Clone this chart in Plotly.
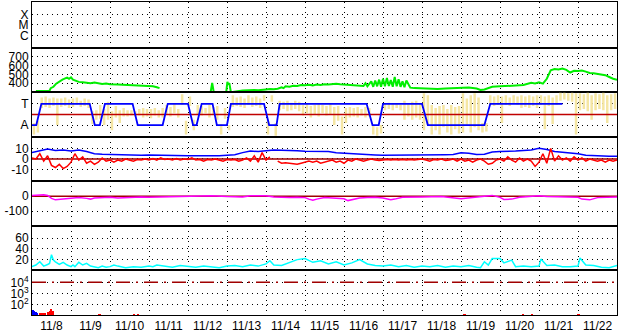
import plotly.graph_objects as go

# ---------------- data ----------------
day_labels = ["11/8", "11/9", "11/10", "11/11", "11/12", "11/13", "11/14", "11/15",
              "11/16", "11/17", "11/18", "11/19", "11/20", "11/21", "11/22"]

# X-ray flux class (log10 W/m2) -- no data visible in the period
xr_t = []
xr_v = []

# solar wind speed (km/s), time in days from 11/8 00:00
sw_t = [0.1, 0.2, 0.3, 0.4, 0.45, 0.48, 0.55, 0.62, 0.7, 0.78, 0.85, 0.9, 0.95, 1.0, 1.05, 1.12,
        1.2, 1.3, 1.4, 1.5, 1.6, 1.7, 1.8, 1.9, 2.0, 2.2, 2.4, 2.6, 2.8, 3.0, 3.1, 3.2, 3.27,
        3.3,
        4.58, 4.62, 4.66, 4.98, 5.01, 5.03, 5.06, 5.1,
        5.4, 5.5, 5.6, 5.7, 5.8, 5.9, 6.0, 6.1, 6.2, 6.3, 6.4, 6.45, 6.5, 6.6, 6.7, 6.8, 6.9,
        7.0, 7.1, 7.2, 7.3, 7.4, 7.5, 7.6, 7.7, 7.8, 7.9, 8.0, 8.1, 8.2, 8.3, 8.4, 8.5, 8.55,
        8.6, 8.7, 8.75, 8.8, 8.85, 8.9, 8.95, 9.0, 9.05, 9.1, 9.15, 9.2, 9.25, 9.3, 9.35, 9.4,
        9.45, 9.5, 9.55, 9.6, 9.7, 9.8, 10.0, 10.2, 10.4, 10.6, 10.8, 11.0, 11.2, 11.4, 11.5,
        11.6, 11.8, 12.0, 12.2, 12.4, 12.6, 12.8, 12.9, 13.0, 13.1, 13.2, 13.3, 13.4, 13.5,
        13.6, 13.7, 13.8, 13.9, 14.0, 14.1, 14.2, 14.3, 14.4, 14.5, 14.6, 14.7, 14.8, 14.9, 15.0]
sw_v = [312, 315, 314, 318, 316, 345, 360, 395, 420, 440, 455, 462, 450, 465, 440, 425,
        415, 410, 405, 400, 408, 398, 392, 396, 388, 385, 382, 378, 375, 372, 365, 355, 345,
        None,
        300, 403, 300, 300, 415, 385, 400, 300,
        318, 322, 318, 325, 320, 328, 330, 335, 332, 338, 355, 345, 365, 360, 372, 368, 380,
        378, 382, 376, 385, 380, 388, 385, 392, 395, 388, 385, 378, 372, 368, 365, 370, 400,
        365, 420, 360, 430, 365, 440, 360, 450, 365, 460, 370, 435, 360, 470, 365, 445,
        360, 420, 355, 430, 350, 345, 340, 338, 335, 340, 345, 350, 352, 340, 325,
        330, 360, 365, 368, 375, 380, 405, 398, 410, 395, 450, 545, 560, 555,
        565, 550, 520, 540, 538, 542, 530, 515, 512, 505, 495, 490, 470, 450, 440]

# IMF sector (T = +1, A = -1)
sec_t = [0.0, 0.11, 0.24, 1.48, 1.61, 1.74, 1.87, 2.58, 2.71, 3.35, 3.48, 4.0, 4.13, 4.22,
         4.35, 4.63, 4.74, 5.0, 5.1, 5.95, 6.08, 6.27, 6.35, 8.58, 8.73, 8.89, 9.0, 10.0,
         10.15, 11.6, 11.75, 13.6]
sec_v = [-1, -1, 1, 1, -1, -1, 1, 1, -1, -1, 1, 1, -1, -1,
         1, 1, -1, -1, 1, 1, -1, -1, 1, 1, -1, -1, 1, 1,
         -1, -1, 1, 1]

# IMF phi scatter (pale yellow): per 0.1-day bin, low / high of the dense part
phi_t = [round(0.05 + 0.1 * i, 2) for i in range(150)]
phi_lo = [-1.9, -1.7, 0.6, 0.7, 0.6, 0.8, -1.0, 0.7, 0.8, 0.6,
          0.7, 0.9, 0.7, 0.8, 0.6, -0.9, -0.5, -0.4, -1.0, -0.5,
          -1.5, -0.3, -0.8, -0.2, -0.2, -0.1, -0.2, -0.1, -0.3, -0.2,
          -0.35, -0.1, -0.3, -0.3, 0.0, -0.2, 0.1, -0.3, 0.9, -1.9,
          0.8, -1.5, 0.0, -0.1, 0.1, -0.3, 0.0, -0.5, -1.9, -0.4,
          -1.5, 0.7, 0.8, 0.7, 0.6, 0.9, 0.7, 0.8, 0.6, 1.3,
          -1.9, 1.2, -2.0, 0.4, 0.5, 0.3, 0.4, 0.5, 0.3, -0.1,
          0.1, -0.3, 0.0, -0.2, 0.1, -0.1, 0.0, -1.0, -0.6, -1.9,
          -0.8, -0.3, -0.2, -0.3, -0.1, -0.3, -0.2, -1.9, -2.0, -1.8,
          0.4, 0.5, 0.4, 0.6, 0.4, -0.5, -0.2, -0.5, -0.3, -0.5,
          -1.5, -1.0, -1.9, -1.5, -1.9, -1.2, -1.7, -1.9, -1.4, -1.8,
          -1.7, -1.0, -1.7, -1.2, -1.5, -1.7, -1.6, 0.9, 0.8, 0.9,
          -0.8, 0.9, 0.8, 1.0, 0.9, 0.6, 0.7, 0.6, 0.8, 0.6,
          0.9, -1.4, 0.8, -0.9, 0.9, 1.3, 1.4, 1.3, 1.2, -1.9,
          0.4, 0.5, 0.3, -0.5, 0.4, 0.5, 0.4, -0.8, 0.4, 0.5]
phi_hi = [-0.8, -0.6, 1.6, 1.7, 1.5, 1.6, 1.5, 1.5, 1.6, 1.4,
          1.5, 1.6, 1.3, 1.5, 1.4, 0.3, 0.4, 0.9, 0.5, 1.2,
          0.3, 0.8, 0.4, 0.6, 0.4, 0.4, 0.3, 0.5, 0.6, 0.5,
          0.5, 0.6, 0.4, 0.6, 0.9, 0.7, 1.0, 0.5, 1.9, -0.6,
          1.7, -0.5, 0.9, 0.8, 0.6, 0.9, 0.7, 0.8, -0.9, 0.6,
          -1.0, 1.8, 1.6, 1.7, 1.5, 1.8, 1.6, 1.7, 1.5, 1.8,
          -0.6, 1.8, -0.8, 1.3, 1.2, 1.3, 1.1, 1.3, 1.2, 0.9,
          1.0, 0.8, 0.9, 1.0, 0.9, 0.8, 1.0, 0.7, 0.8, -0.2,
          0.6, 0.7, 0.6, 0.7, 0.5, 0.7, 0.6, -1.1, -1.2, -1.0,
          1.0, 1.1, 1.0, 1.0, 0.9, 1.3, 1.0, 1.2, 1.3, 1.0,
          2.0, 1.8, 0.9, 0.6, 0.8, 0.9, 0.5, 0.9, 0.7, 0.8,
          2.0, 1.5, 1.8, 2.0, 1.6, -0.8, -0.8, 1.8, 1.7, 1.8,
          1.7, 1.8, 1.6, 1.8, 1.7, 1.8, 1.7, 1.8, 1.7, 1.8,
          1.8, 1.7, 1.8, 1.6, 1.8, 2.05, 2.05, 2.0, 2.05, 2.0,
          2.0, 1.9, 2.05, 1.8, 2.0, 1.9, 2.05, 1.8, 1.9, 2.0]

# IMF Bt (blue) and Bz (red), nT
bt_t = [round(0.2 * i, 2) for i in range(76)]
bt_v = [6, 8, 9.5, 8, 8.5, 7.5, 8.5, 7, 5, 4.5, 4.2, 4.5, 4, 3.8, 3.5, 3.8, 3.5, 3.2, 3, 3,
        3, 3, 2.8, 2.7, 3, 3.5, 4, 6, 7.5, 7, 8, 8.5, 8.3, 8.3, 7.8, 7.3, 7.3, 7.5, 7, 6,
        5.5, 4.6, 4.2, 4, 3.8, 3.5, 3.5, 3.4, 3.6, 3.5, 3.8, 4, 3.8, 4, 4.2, 5.8, 5.5, 4.2,
        4.5, 6.5, 7, 7, 7.5, 8, 8.5, 10, 9, 7, 6.5, 6, 5, 3.5, 3, 3, 2.6, 2.5]
bz_t = [round(0.1 * i, 2) for i in range(151)]
bz_v = [1, 0, 5, -2, 3, -6, -8, -5, -9, -7,
        -3, 5, -1, 2, -4, -2, -5, -3, 1, -2,
        -1, -3, -1, -2, 0, -1, -2, -0.5, -1, 0,
        -1, 0.5, -1, 1, -0.5, 0, -1, 0.5, -1, 0,
        -0.5, 1, -1, -0.5, -2, -0.5, -1, 0, -1, -2,
        -0.5, -1, -0.5, -2, -1, 1, -2, 3, -3, 6,
        -1, 2, None, -2, -4, -3.5, -4, -4.5, -5, -4,
        -3, -2, -3, -2, -4, -3, -2, -1, -3, -2,
        -4, -1, -2, 0, -1, -2, -1, 0, -1, -1.5,
        -1, -0.5, -1, -0.5, -1, -0.5, -1, -0.5, -1, -0.5,
        0, -1, -2, -0.5, -1, 0, -1.5, -1, 0, -2,
        0, -2, -1, -3, -1, 0, -2, -5, -4, -1,
        0, -2, 2, -1, -3, 1, -2, 0, -2, -7,
        -3, 5, -4, 10, -2, 3, -1, 1, -2, 2,
        -1, 1, -2, 0, -1, -2, -1, -3, -1, -2, -1]

# Dst (magenta), nT
dst_t = [0, 0.2, 0.3, 0.4, 0.5, 0.6, 0.7, 0.8, 0.9, 1.0, 1.2, 1.4, 1.5, 1.6, 1.8, 2.0, 2.2, 2.4,
         2.6, 2.8, 3.0, 3.5, 4.0, 4.4, 4.6, 5.0, 5.4, 5.6, 5.8, 6.0, 6.2, 6.4, 6.6, 6.8, 7.0,
         7.1, 7.2, 7.3, 7.5, 7.8, 8.0, 8.1, 8.2, 8.4, 8.6, 8.8, 9.0, 9.2, 9.3, 9.5, 10.0,
         10.5, 11.0, 11.2, 11.4, 11.6, 11.8, 12.0, 12.1, 12.3, 12.5, 12.8, 13.0, 13.2, 13.5,
         13.8, 14.0, 14.1, 14.3, 14.5, 14.8, 15.0]
dst_v = [5, 8, 10, 5, -15, -25, -22, -18, -15, -15, -10, -15, -20, -12, -10, -8, -12, -8,
         -5, -5, -8, -5, -3, -3, 2, -3, -5, 3, 5, 3, -5, -8, -10, -8, -10,
         -20, -28, -20, -10, -15, -18, -30, -25, -12, -10, -8, -12, -25, -20, -8, -5,
         -3, -17, -10, -5, 0, 5, -8, -22, -20, -8, 0, 3, -2, -5,
         -5, -8, -20, -25, -10, -5, -5]

# Kp-like index (cyan)
kp_t = [0.0, 0.1, 0.2, 0.3, 0.4, 0.45, 0.5, 0.55, 0.6, 0.7, 0.8, 0.9, 1.0, 1.05, 1.1, 1.2,
        1.3, 1.4, 1.5, 1.6, 1.7, 1.8, 1.9, 2.0, 2.1, 2.2, 2.3, 2.4, 2.6, 2.8, 3.0, 3.1, 3.2,
        3.4, 3.6, 3.8, 4.0, 4.2, 4.4, 4.6, 4.8, 5.0, 5.2, 5.4, 5.6, 5.8, 6.0, 6.1, 6.2, 6.4,
        6.6, 6.8, 7.0, 7.2, 7.4, 7.6, 7.8, 8.0, 8.2, 8.4, 8.6, 8.8, 9.0, 9.2, 9.4, 9.6, 9.8,
        10.0, 10.2, 10.4, 10.6, 10.8, 11.0, 11.2, 11.4, 11.5, 11.6, 11.7, 11.8, 12.0, 12.1,
        12.3, 12.4, 12.6, 12.8, 13.0, 13.05, 13.2, 13.4, 13.6, 13.8, 14.0, 14.05, 14.2, 14.4,
        14.6, 14.8, 15.0]
kp_v = [7, 10, 16, 8, 11, 13, 29, 19, 16, 11, 15, 10, 7, 10, 7, 15,
        10, 13, 8, 7, 5, 8, 6, 7, 10, 8, 7, 5, 7, 6, 8, 7, 10,
        8, 6, 9, 7, 6, 8, 7, 5, 8, 9, 7, 10, 8, 12, 18, 10, 9,
        14, 20, 22, 15, 18, 12, 16, 10, 14, 20, 12, 9, 8, 10, 7, 9, 6,
        8, 7, 9, 6, 8, 7, 9, 6, 5, 16, 10, 22, 22, 14,
        19, 7, 8, 7, 8, 21, 9, 10, 7, 7, 8, 23, 10, 9,
        6, 5, 9]

# particle flux bars (log panel)
pf_blue_t = [0.02, 0.06, 0.1, 0.14]
pf_blue_v = [26, 24, 20, 14]
pf_red_t = [0.22, 0.28, 0.34, 0.42, 0.47, 0.5, 0.54, 1.74, 2.62, 2.72, 11.1, 12.6, 12.82, 14.02]
pf_red_v = [14, 16, 15, 17, 22, 36, 22, 13, 13, 13, 13, 13, 13, 13]

x_threshold = [0, 15]
y_threshold = [1e4, 1e4]

# ---------------- figure ----------------
fig = go.Figure()
bounds = [1, 47, 92, 137, 182, 227, 272, 317]
PH = 316.0


def dom(i):
    return [(317 - bounds[i + 1]) / PH, (317 - bounds[i]) / PH]


def ax(i):
    return ("x" if i == 0 else "x%d" % (i + 1)), ("y" if i == 0 else "y%d" % (i + 1))


font = dict(family="Liberation Sans, Arial, sans-serif", size=12, color="black")
GD = "1px,4px"

# panel 1: X-ray (empty)
xa, ya = ax(0)
fig.add_trace(go.Scatter(x=xr_t, y=xr_v, xaxis=xa, yaxis=ya, mode="lines",
                         line=dict(color="#ff0000", width=1.5)))

# panel 2: speed
xa, ya = ax(1)
fig.add_trace(go.Scatter(x=sw_t, y=sw_v, xaxis=xa, yaxis=ya, mode="lines",
                         line=dict(color="#00ee00", width=2), connectgaps=False))

# panel 3: sector
xa, ya = ax(2)
px, py = [], []
for t, lo, hi in zip(phi_t, phi_lo, phi_hi):
    px += [t, t, None]
    py += [lo, hi, None]
fig.add_trace(go.Scatter(x=px, y=py, xaxis=xa, yaxis=ya, mode="lines",
                         line=dict(color="#f5e6a3", width=2.5)))
fig.add_trace(go.Scatter(x=x_threshold, y=[0, 0], xaxis=xa, yaxis=ya, mode="lines",
                         line=dict(color="#c00000", width=1.5)))
fig.add_trace(go.Scatter(x=sec_t, y=sec_v, xaxis=xa, yaxis=ya, mode="lines",
                         line=dict(color="#0000ff", width=1.8)))

# panel 4: Bt/Bz
xa, ya = ax(3)
fig.add_trace(go.Scatter(x=x_threshold, y=[0, 0], xaxis=xa, yaxis=ya, mode="lines",
                         line=dict(color="#a00000", width=1.5)))
fig.add_trace(go.Scatter(x=bt_t, y=bt_v, xaxis=xa, yaxis=ya, mode="lines",
                         line=dict(color="#0000ff", width=1.5)))
fig.add_trace(go.Scatter(x=bz_t, y=bz_v, xaxis=xa, yaxis=ya, mode="lines",
                         line=dict(color="#ff0000", width=1.5), connectgaps=False))

# panel 5: Dst
xa, ya = ax(4)
fig.add_trace(go.Scatter(x=x_threshold, y=[0, 0], xaxis=xa, yaxis=ya, mode="lines",
                         line=dict(color="#a00000", width=1.5)))
fig.add_trace(go.Scatter(x=dst_t, y=dst_v, xaxis=xa, yaxis=ya, mode="lines",
                         line=dict(color="#ff00ff", width=1.5)))

# panel 6: Kp
xa, ya = ax(5)
fig.add_trace(go.Scatter(x=kp_t, y=kp_v, xaxis=xa, yaxis=ya, mode="lines",
                         line=dict(color="#00ffff", width=1.5)))

# panel 7: particle flux (log)
xa, ya = ax(6)
fig.add_trace(go.Scatter(x=x_threshold, y=y_threshold, xaxis=xa, yaxis=ya, mode="lines",
                         line=dict(color="#a00000", width=1.5, dash="14px,6px,2px,6px")))
fig.add_trace(go.Bar(x=pf_blue_t, y=pf_blue_v, xaxis=xa, yaxis=ya, width=0.05,
                     marker=dict(color="#0000ff", line=dict(width=0))))
fig.add_trace(go.Bar(x=pf_red_t, y=pf_red_v, xaxis=xa, yaxis=ya, width=0.05,
                     marker=dict(color="#ff0000", line=dict(width=0))))

y_specs = [
    dict(range=[-7.17, -2.79], tickvals=[-6, -5, -4], ticktext=["C", "M", "X"]),
    dict(range=[300, 800], tickvals=[400, 500, 600, 700], ticktext=["400", "500", "600", "700"]),
    dict(range=[-2.1, 2.1], tickvals=[-1, 1], ticktext=["A", "T"]),
    dict(range=[-21, 21], tickvals=[-10, 0, 10], ticktext=["-10", "0", "10"]),
    dict(range=[-200, 100], tickvals=[-100, 0], ticktext=["-100", "0"]),
    dict(range=[0, 82.5], tickvals=[20, 40, 60], ticktext=["20", "40", "60"]),
    dict(type="log", range=[1.04, 5.08], tickvals=[100, 1000, 10000],
         ticktext=["10<sup>2</sup>", "10<sup>3</sup>", "10<sup>4</sup>"]),
]

layout = dict(
    width=628, height=334,
    margin=dict(l=32, r=11, t=1, b=17),
    paper_bgcolor="white", plot_bgcolor="white",
    showlegend=False, font=font, bargap=0, barmode="overlay",
)
for i in range(7):
    xname = "xaxis" if i == 0 else "xaxis%d" % (i + 1)
    yname = "yaxis" if i == 0 else "yaxis%d" % (i + 1)
    xa, ya = ax(i)
    layout[xname] = dict(
        domain=[0, 1], range=[0, 15], anchor=ya,
        showline=True, linecolor="black", linewidth=1, mirror=True,
        showgrid=False, zeroline=False, ticks="",
        tickmode="array", tickvals=[d + 0.5 for d in range(15)], ticktext=day_labels,
        showticklabels=(i == 6), tickfont=font,
        minor=dict(tickmode="array", tickvals=list(range(1, 15)), showgrid=True,
                   gridcolor="black", gridwidth=1, griddash=GD, ticks=""),
    )
    if i > 0:
        layout[xname]["matches"] = "x"
    spec = y_specs[i]
    yd = dict(domain=dom(i), anchor=xa, showline=True, linecolor="black", linewidth=1,
              mirror=True, showgrid=True, gridcolor="black", gridwidth=1, griddash=GD,
              zeroline=False, ticks="", tickmode="array", tickfont=font, fixedrange=True)
    yd.update(spec)
    layout[yname] = yd

fig.update_layout(**layout)
fig.write_html("out.html")
